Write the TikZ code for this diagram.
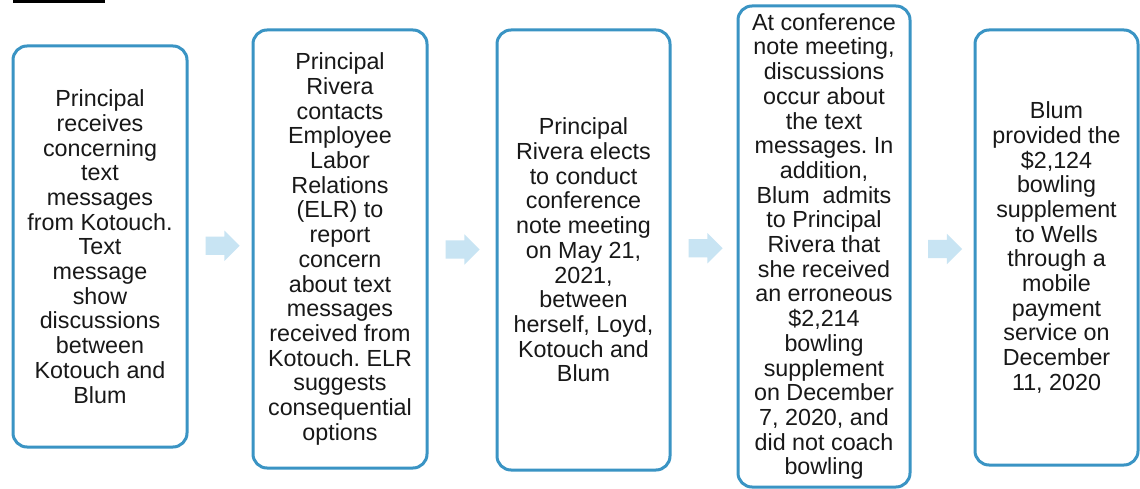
\documentclass[tikz,border=0pt]{standalone}
\usepackage{fontspec}
\setmainfont{Liberation Sans}
\usetikzlibrary{shapes.arrows,calc}
\definecolor{boxblue}{RGB}{58,148,196}
\definecolor{arrowblue}{RGB}{200,228,243}
\definecolor{inkgray}{RGB}{24,24,24}
\frenchspacing
\tikzset{
  stepbox/.style={draw=boxblue, line width=3pt, rounded corners=14pt, fill=white,
    align=center, inner sep=0pt, text=inkgray,
    font=\fontsize{23.3}{24.7}\selectfont},
  flowarrow/.style={single arrow, fill=arrowblue, draw=none,
    minimum height=34pt, minimum width=30pt, single arrow head extend=6pt,
    inner xsep=0pt, inner ysep=9pt}
}
\begin{document}
\begin{tikzpicture}[x=1pt,y=-1pt]
\useasboundingbox (0,0) rectangle (1140,489);
\fill[white] (0,0) rectangle (1140,489);
% cut-off underlined heading at top left
\fill[black] (13,0) rectangle (105,3);
\node[stepbox, minimum width=174pt, minimum height=401pt] (b1) at (100,246.5)
  {Principal\\receives\\concerning\\text\\messages\\from Kotouch.\\Text\\message\\show\\discussions\\between\\Kotouch and\\Blum};
\node[stepbox, minimum width=174pt, minimum height=438pt] (b2) at (340,249)
  {Principal\\Rivera\\contacts\\Employee\\Labor\\Relations\\(ELR) to\\report\\concern\\about text\\messages\\received from\\Kotouch. ELR\\suggests\\consequential\\options};
\node[stepbox, minimum width=173pt, minimum height=440pt] (b3) at (583.5,250)
  {Principal\\Rivera elects\\to conduct\\conference\\note meeting\\on May 21,\\2021,\\between\\herself, Loyd,\\Kotouch and\\Blum};
\node[stepbox, minimum width=172pt, minimum height=481pt] (b4) at (824,246.5)
  {At conference\\note meeting,\\discussions\\occur about\\the text\\messages. In\\addition,\\Blum\ \ admits\\to Principal\\Rivera that\\she received\\an erroneous\\\$2,214\\bowling\\supplement\\on December\\7, 2020, and\\did not coach\\bowling};
\node[stepbox, minimum width=163pt, minimum height=435pt] (b5) at (1056.5,247.5)
  {Blum\\provided the\\\$2,124\\bowling\\supplement\\to Wells\\through a\\mobile\\payment\\service on\\December\\11, 2020};
\node[flowarrow] (a1) at ($(b1.east)!0.5!(b2.west)+(-2,-2)$) {};
\node[flowarrow] (a2) at ($(b2.east)!0.5!(b3.west)+(-4,0)$) {};
\node[flowarrow] (a3) at ($(b3.east)!0.5!(b4.west)+(-3,0)$) {};
\node[flowarrow] (a4) at ($(b4.east)!0.5!(b5.west)+(-2,2)$) {};
\end{tikzpicture}
\end{document}
